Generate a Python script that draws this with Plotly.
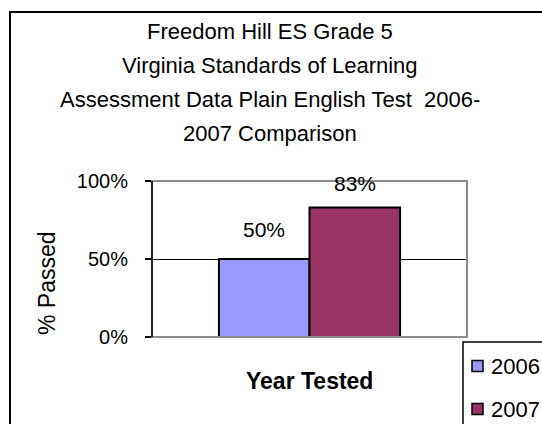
import plotly.graph_objects as go

# ---- data ----
years = ["2006", "2007"]
passed = [0.50, 0.83]
category = ["Plain English Test"]
title_lines = [
    "Freedom Hill ES Grade 5",
    "Virginia Standards of Learning",
    "Assessment Data Plain English Test  2006-",
    "2007 Comparison",
]
y_ticks = [0, 0.5, 1.0]
y_tick_labels = ["0%", "50%", "100%"]

# ---- styles ----
colors = ["#9999FF", "#993366"]
FONT = "Liberation Sans, Arial, sans-serif"
W, H = 542, 424
L, R, T, B = 152, 467, 181, 337   # plot area pixel bounds
PW, PH = R - L, B - T
BARGAP = 0.425


def px_x(px):
    return (px - L) / PW


def px_y(py):
    return (B - py) / PH


fig = go.Figure()
for yr, val, col in zip(years, passed, colors):
    fig.add_trace(go.Bar(
        x=category, y=[val], name=yr,
        marker=dict(color=col, line=dict(color="black", width=2)),
        hoverinfo="skip", showlegend=False,
    ))

annotations = []
# title lines
for i, line in enumerate(title_lines):
    annotations.append(dict(
        text=line, xref="paper", yref="paper",
        x=px_x(270), y=px_y(31 + 34.3 * i), xanchor="center", yanchor="middle",
        showarrow=False, font=dict(family=FONT, size=22, color="black"),
    ))

# data labels
bar_w = (1 - BARGAP) * PW / len(years)
shifts = [30, 24]
for i, (val, sh) in enumerate(zip(passed, shifts)):
    annotations.append(dict(
        text=f"{val:.0%}", xref="x", yref="y", x=category[0], y=val,
        xshift=(i - (len(years) - 1) / 2) * bar_w, yshift=sh,
        xanchor="center", yanchor="middle", showarrow=False,
        font=dict(family=FONT, size=21, color="black"),
    ))

# axis titles
annotations.append(dict(
    text="<b>Year Tested</b>", xref="paper", yref="paper",
    x=px_x(309), y=px_y(381), xanchor="center", yanchor="middle",
    showarrow=False, font=dict(family=FONT, size=23, color="black"),
))
annotations.append(dict(
    text="% Passed", xref="paper", yref="paper", textangle=-90,
    x=px_x(47), y=px_y(283), xanchor="center", yanchor="middle",
    showarrow=False, font=dict(family=FONT, size=23, color="black"),
))

shapes = [
    # chart area border
    dict(type="rect", xref="paper", yref="paper",
         x0=px_x(10), x1=px_x(W + 20), y0=px_y(H + 20), y1=px_y(12),
         line=dict(color="black", width=2), layer="below"),
]
# plot area border (gray) and left axis (black)
shapes.append(dict(type="rect", xref="paper", yref="paper", x0=0, x1=1, y0=0, y1=1,
                   line=dict(color="#8c8c8c", width=2), layer="above"))
shapes.append(dict(type="line", xref="paper", yref="paper", x0=0, x1=0, y0=0, y1=1,
                   line=dict(color="black", width=1.5), layer="above"))

# manual legend (box, swatches, labels built from years/colors)
LEG_L, LEG_T = 463, 342
leg_rows = [366, 409]
shapes.append(dict(type="rect", xref="paper", yref="paper",
                   x0=px_x(LEG_L), x1=px_x(W + 20), y0=px_y(H + 20), y1=px_y(LEG_T),
                   line=dict(color="black", width=1.5), fillcolor="white", layer="above"))
for yr, col, ry in zip(years, colors, leg_rows):
    shapes.append(dict(type="rect", xref="paper", yref="paper",
                       x0=px_x(LEG_L + 9), x1=px_x(LEG_L + 20),
                       y0=px_y(ry + 5.5), y1=px_y(ry - 5.5),
                       line=dict(color="black", width=1.5), fillcolor=col, layer="above"))
    annotations.append(dict(
        text=yr, xref="paper", yref="paper", x=px_x(LEG_L + 26), y=px_y(ry),
        xanchor="left", yanchor="middle", showarrow=False,
        font=dict(family=FONT, size=22, color="black"),
    ))

fig.update_layout(
    width=W, height=H,
    margin=dict(l=L, r=W - R, t=T, b=H - B, pad=0, autoexpand=False),
    paper_bgcolor="white", plot_bgcolor="white",
    barmode="group", bargap=BARGAP, bargroupgap=0,
    font=dict(family=FONT, size=20, color="black"),
    showlegend=False,
    xaxis=dict(showticklabels=False, showgrid=False, zeroline=False,
               showline=False, ticks=""),
    yaxis=dict(range=[0, 1], tickvals=y_ticks, ticktext=y_tick_labels,
               showgrid=True, gridcolor="black", gridwidth=1,
               zeroline=False, showline=False,
               ticks="outside", ticklen=6, tickcolor="black", tickwidth=1.5,
               ticklabelstandoff=13,
               tickfont=dict(family=FONT, size=20, color="black")),
    annotations=annotations,
    shapes=shapes,
)

fig.write_html("out.html", config={"displayModeBar": False},
               post_script="document.body.style.margin='0';document.body.style.overflow='hidden';")
